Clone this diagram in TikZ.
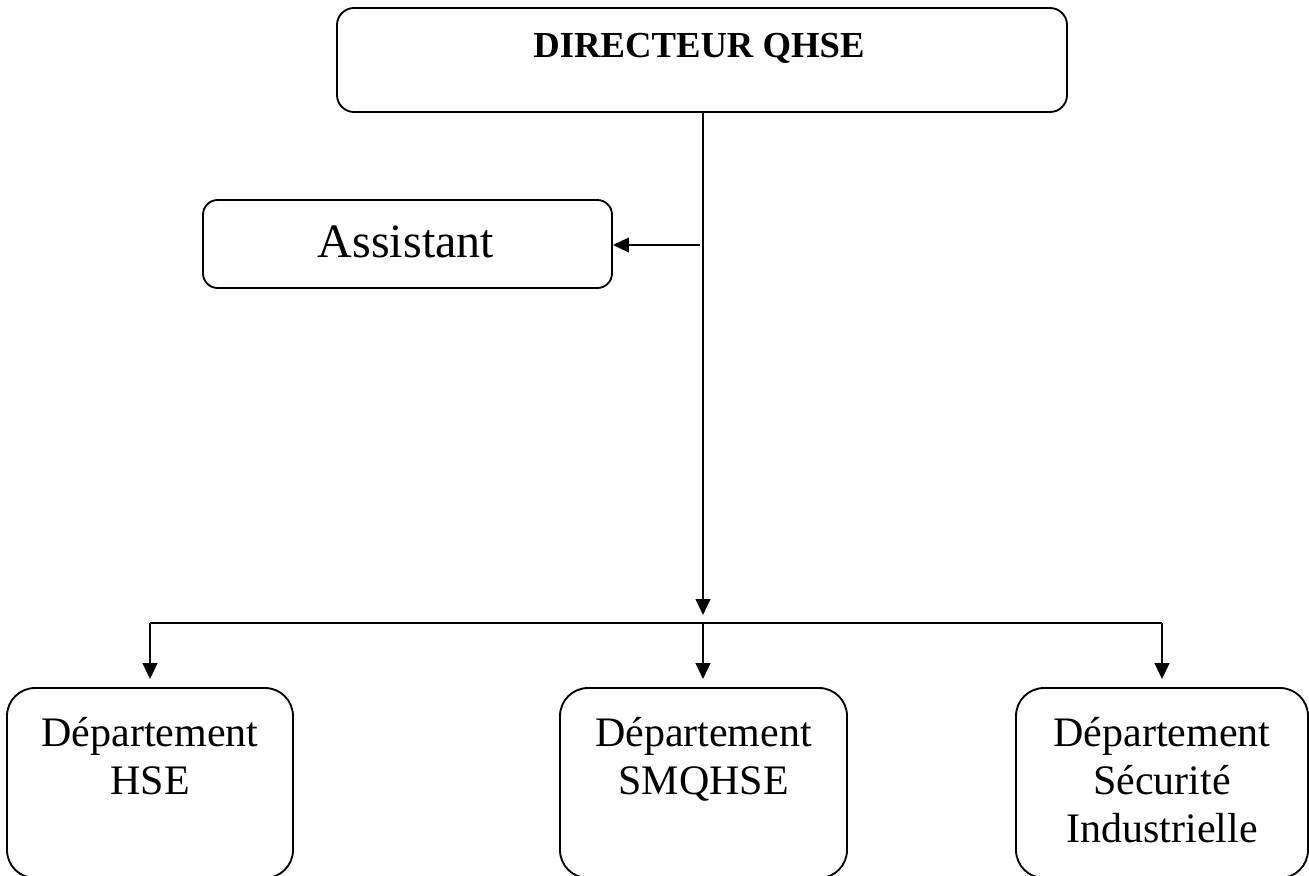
\documentclass[tikz,border=0pt]{standalone}
\usepackage{fontspec}
\setmainfont{Liberation Serif}
\usetikzlibrary{arrows.meta}
\tikzset{
  box/.style={draw, line width=1.4pt, inner sep=0pt},
  conn/.style={line width=1.5pt},
  arr/.style={conn, -{Triangle[length=12pt,width=11pt]}},
  lbl/.style={inner sep=0pt, anchor=base, align=center},
  depfont/.style={font=\fontsize{31.5pt}{36pt}\selectfont}
}
\begin{document}
\begin{tikzpicture}[x=0.75pt,y=-0.75pt]
\useasboundingbox (0,0) rectangle (1309,875);
\clip (0,0) rectangle (1309,875);
% boxes
\node[box, rounded corners=12.75pt, minimum width=547.5pt, minimum height=78pt] (dir) at (702,60) {};
\node[box, rounded corners=11pt, minimum width=306.75pt, minimum height=66pt] (asst) at (407.5,244) {};
\node[box, rounded corners=21pt, minimum width=214.5pt, minimum height=142.5pt] (hse) at (150,783) {};
\node[box, rounded corners=21pt, minimum width=215.25pt, minimum height=142.5pt] (smq) at (703.5,783) {};
\node[box, rounded corners=21pt, minimum width=219pt, minimum height=142.5pt] (sec) at (1162,783) {};
% texts
\node[lbl, font=\bfseries\fontsize{27.5pt}{32pt}\selectfont] (tdir) at (699,57) {DIRECTEUR QHSE};
\node[lbl, font=\fontsize{36pt}{42pt}\selectfont] (tasst) at (406,257) {Assistant};
\node[lbl, depfont] (thse) at (150,794) {Département\\HSE};
\node[lbl, depfont] (tsmq) at (703.5,794) {Département\\SMQHSE};
\node[lbl, depfont] (tsec) at (1162,842) {Département\\Sécurité\\Industrielle};
% connectors
\coordinate (j) at (703,623);
\coordinate (jt) at (703,615);
\coordinate (a0) at (700,245);
\draw[arr] (dir.south -| jt) -- (jt);
\draw[arr] (a0) -- (asst.east |- a0);
\draw[conn] (hse.north |- j) -- (sec.north |- j);
\draw[arr, shorten >=6pt] (hse.north |- j) -- (hse.north);
\draw[arr, shorten >=6pt] (j) -- (j |- smq.north);
\draw[arr, shorten >=6pt] (sec.north |- j) -- (sec.north);
\end{tikzpicture}
\end{document}
